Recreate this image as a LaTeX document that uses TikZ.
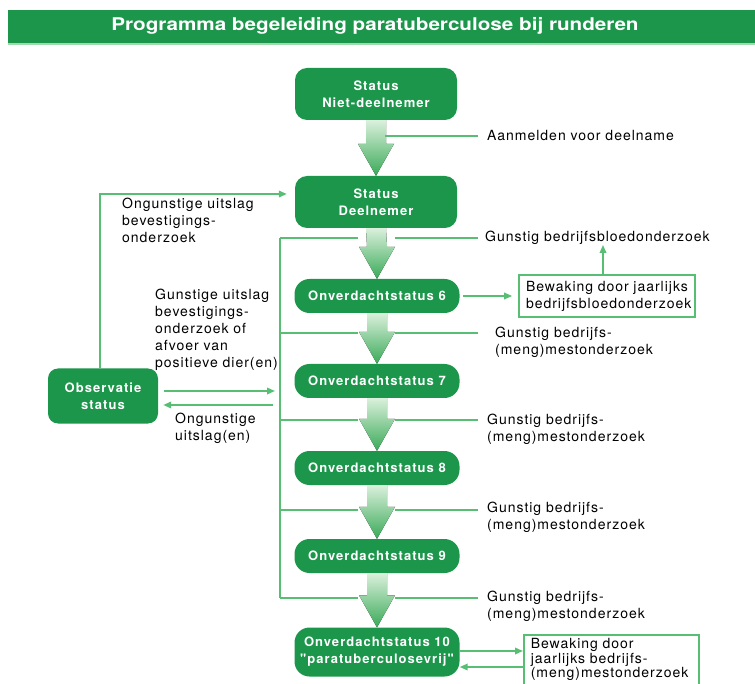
\documentclass[tikz,border=0pt]{standalone}
\usepackage{fontspec}
\setmainfont{TeX Gyre Heros}
\newfontfamily\statfont{TeX Gyre Heros}[LetterSpace=8]
\newfontfamily\labfont{TeX Gyre Heros}[LetterSpace=7]
\newfontfamily\titlefont{TeX Gyre Heros}[FakeStretch=1.18]
\usetikzlibrary{positioning,arrows.meta,calc}
\definecolor{pbgreen}{RGB}{28,150,75}
\definecolor{pblines}{RGB}{88,190,115}
\definecolor{pbpale}{RGB}{160,218,175}
\definecolor{arrtop}{RGB}{218,240,220}
\definecolor{arrbot}{RGB}{58,170,88}
\tikzset{
  status/.style={fill=pbgreen,rounded corners=12pt,text=white,align=center,inner sep=0pt,
                 minimum width=162pt,minimum height=52pt,
                 font=\statfont\bfseries\fontsize{13}{17}\selectfont},
  onv/.style={status,rounded corners=15pt,minimum width=165pt,minimum height=34pt},
  lab/.style={font=\labfont\fontsize{14}{17}\selectfont,align=left,inner sep=0pt},
  watch/.style={draw=pblines,line width=1.6pt,lab,inner xsep=7pt,inner ysep=5pt},
  link/.style={pblines,line width=1.7pt},
  arr/.style={link,-{Triangle[length=8pt,width=6.5pt]}},
}
\newcommand\flowarrow[2]{%
  \fill[top color=arrtop,bottom color=arrbot]
    ($(#1.south)+(-10,0)$) -- ($(#2.north)+(-10,-32)$) -- ($(#2.north)+(-18,-32)$)
    -- (#2.north) -- ($(#2.north)+(18,-32)$) -- ($(#2.north)+(10,-32)$)
    -- ($(#1.south)+(10,0)$) -- cycle;}

\begin{document}
\begin{tikzpicture}[x=1pt,y=-1pt]
  \clip (0,0) rectangle (755,684);
  % title bar
  \fill[pbgreen] (8,10) rectangle (755,43);
  \draw[pbpale,line width=2pt] (8,44.5) -- (755,44.5);
  \node[text=white,font=\titlefont\bfseries\fontsize{17.5}{20}\selectfont] (title) at (375,26)
    {Programma begeleiding paratuberculose bij runderen};

  % main column
  \node[status] (nd) at (376,94) {Status\\Niet-deelnemer};
  \node[status] (dn) at (376,202) {Status\\Deelnemer};
  \node[onv] (ov6) at (377,296) {Onverdachtstatus 6};
  \node[onv] (ov7) at (377,381) {Onverdachtstatus 7};
  \node[onv] (ov8) at (377,468) {Onverdachtstatus 8};
  \node[onv] (ov9) at (377,556) {Onverdachtstatus 9};
  \node[onv,minimum height=49pt] (ov10) at (377,652) {Onverdachtstatus 10\\"paratuberculosevrij"};
  \node[status,rounded corners=10pt,minimum width=110pt,minimum height=55pt] (obs) at (103,396)
    {Observatie\\status};

  \flowarrow{nd}{dn}
  \flowarrow{dn}{ov6}
  \flowarrow{ov6}{ov7}
  \flowarrow{ov7}{ov8}
  \flowarrow{ov8}{ov9}
  \flowarrow{ov9}{ov10}

  % surveillance boxes
  \node[watch,minimum width=176pt,minimum height=42pt,text width=162pt] (box1) at (607,296)
    {Bewaking door jaarlijks\\bedrijfsbloedonderzoek};
  \node[watch,anchor=north west,minimum height=50pt,text width=161pt,inner ysep=3pt,
        font=\labfont\fontsize{14}{14.5}\selectfont] (box2) at (523,634)
    {Bewaking door\\jaarlijks bedrijfs-\\(meng)mestonderzoek};

  % entry
  \coordinate (aa) at (478,136);
  \draw[link] (aa) -- ++(-93,0);
  \node[lab,anchor=west] (aanm) at (487,136) {Aanmelden voor deelname};

  % favourable results at each step
  \foreach \y [count=\i] in {238,333,420,510,598} {
    \coordinate (gl\i) at (280,\y);
    \coordinate (gr\i) at (478,\y);
    \draw[link] (gl\i) -- ++(78,0);
    \draw[link] (gr\i) -- ++(-83,0);
  }
  \draw[link] (gl1) -- (gl5);
  \node[lab,anchor=west] (g1) at (485,238) {Gunstig bedrijfsbloedonderzoek};
  \node[lab,anchor=north west] (g2) at (495,327) {Gunstig bedrijfs-\\(meng)mestonderzoek};
  \node[lab,anchor=north west] (g3) at (487,414) {Gunstig bedrijfs-\\(meng)mestonderzoek};
  \node[lab,anchor=north west] (g4) at (487,502) {Gunstig bedrijfs-\\(meng)mestonderzoek};
  \node[lab,anchor=north west] (g5) at (487,591) {Gunstig bedrijfs-\\(meng)mestonderzoek};

  \draw[arr,shorten <=3pt,shorten >=6pt] (ov6.east) -- (box1.west);
  \draw[arr] ([xshift=-4pt]box1.north) -- ([xshift=-4pt]box1.north |- g1.south);
  \draw[arr] ([yshift=1pt]ov10.east) -- ([yshift=1pt]ov10.east -| box2.west);
  \draw[arr] ([yshift=-15pt]ov10.east -| box2.west) -- ([yshift=-15pt]ov10.east);

  % observation loop
  \draw[arr,shorten >=8pt] ([xshift=-3pt]obs.north) |- ([yshift=8pt]dn.west);
  \draw[arr,shorten <=6pt,shorten >=5pt] ([yshift=5pt]obs.east) -- ([yshift=5pt]obs.east -| gl1);
  \draw[arr,shorten <=7pt,shorten >=5pt] ([yshift=-9pt]obs.east -| gl1) -- ([yshift=-9pt]obs.east);
  \node[lab,anchor=north west] (ung1) at (122,198)
    {Ongunstige uitslag\\bevestigings-\\onderzoek};
  \node[lab,anchor=north west] (gun) at (155,289)
    {Gunstige uitslag\\bevestigings-\\onderzoek of\\afvoer van\\positieve dier(en)};
  \node[lab,anchor=north west] (ung2) at (175,413) {Ongunstige\\uitslag(en)};
\end{tikzpicture}
\end{document}
